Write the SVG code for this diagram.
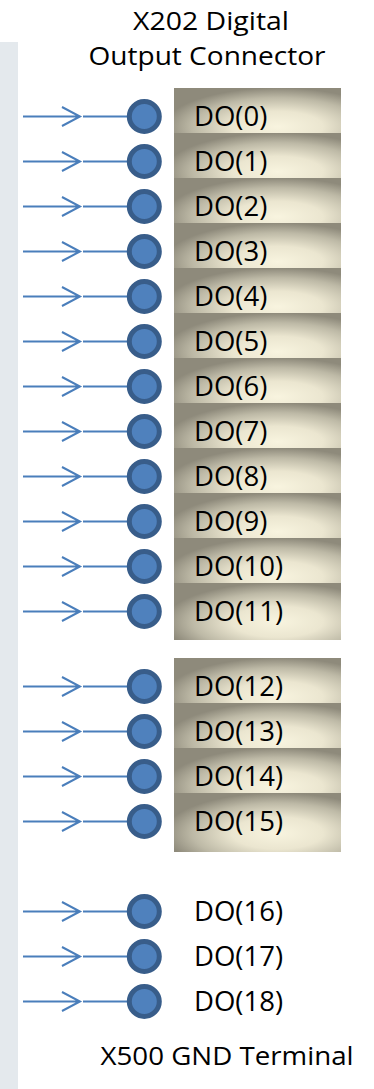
<svg xmlns="http://www.w3.org/2000/svg" width="374" height="1089" viewBox="0 0 374 1089">
  <defs>
    <radialGradient id="tile" cx="0.62" cy="0.68" r="0.68" fx="0.62" fy="0.68">
      <stop offset="0" stop-color="#f8f4df"/>
      <stop offset="0.4" stop-color="#ebe6d0"/>
      <stop offset="0.75" stop-color="#bdb9a6"/>
      <stop offset="1" stop-color="#8e8a7b"/>
    </radialGradient>
    <path id="feed" d="M23 0H80M62 -9.5L80 0L62 9.5M83 0H127"/>
  </defs>
  <style>
    .title { font-family: "Open Sans", "Liberation Sans", sans-serif; font-size: 25px; fill: #000; text-anchor: middle; }
    .lbl { font-family: "Open Sans", "Liberation Sans", sans-serif; font-size: 27.5px; fill: #000; }
    .tile { fill: url(#tile); }
    .pin { fill: #4f81bd; stroke: #385d8a; stroke-width: 5; }
    .wire { fill: none; stroke: #4a7ebb; stroke-width: 2; }
  </style>

  <!-- side panel -->
  <rect x="0" y="42" width="18" height="1047" fill="#e4e9ed"/>

  <!-- headings -->
  <text class="title" x="211" y="30" textLength="156" lengthAdjust="spacingAndGlyphs">X202 Digital</text>
  <text class="title" x="207" y="65" textLength="237" lengthAdjust="spacingAndGlyphs">Output Connector</text>
  <text class="title" x="227" y="1065" textLength="253" lengthAdjust="spacingAndGlyphs">X500 GND Terminal</text>

  <!-- connectors: input arrow plus lead into each pin -->
  <g id="connectors" class="wire">
    <use href="#feed" y="116.5"/>
    <use href="#feed" y="161.5"/>
    <use href="#feed" y="206.5"/>
    <use href="#feed" y="251.5"/>
    <use href="#feed" y="296.5"/>
    <use href="#feed" y="341.5"/>
    <use href="#feed" y="386.5"/>
    <use href="#feed" y="431.5"/>
    <use href="#feed" y="476.5"/>
    <use href="#feed" y="521.5"/>
    <use href="#feed" y="566.5"/>
    <use href="#feed" y="611.5"/>
    <use href="#feed" y="686.5"/>
    <use href="#feed" y="731.5"/>
    <use href="#feed" y="776.5"/>
    <use href="#feed" y="821.5"/>
    <use href="#feed" y="911.5"/>
    <use href="#feed" y="956.5"/>
    <use href="#feed" y="1001.5"/>
  </g>

  <!-- pins: each row is a pin, its shaded label tile and its name -->
  <g id="do0" transform="translate(0,116.5)"><rect class="tile" x="174" y="-28.5" width="167" height="57"/><circle class="pin" cx="144.3" cy="0" r="15"/><text class="lbl" x="194" y="9.5">DO(0)</text></g>
  <g id="do1" transform="translate(0,161.5)"><rect class="tile" x="174" y="-28.5" width="167" height="57"/><circle class="pin" cx="144.3" cy="0" r="15"/><text class="lbl" x="194" y="9.5">DO(1)</text></g>
  <g id="do2" transform="translate(0,206.5)"><rect class="tile" x="174" y="-28.5" width="167" height="57"/><circle class="pin" cx="144.3" cy="0" r="15"/><text class="lbl" x="194" y="9.5">DO(2)</text></g>
  <g id="do3" transform="translate(0,251.5)"><rect class="tile" x="174" y="-28.5" width="167" height="57"/><circle class="pin" cx="144.3" cy="0" r="15"/><text class="lbl" x="194" y="9.5">DO(3)</text></g>
  <g id="do4" transform="translate(0,296.5)"><rect class="tile" x="174" y="-28.5" width="167" height="57"/><circle class="pin" cx="144.3" cy="0" r="15"/><text class="lbl" x="194" y="9.5">DO(4)</text></g>
  <g id="do5" transform="translate(0,341.5)"><rect class="tile" x="174" y="-28.5" width="167" height="57"/><circle class="pin" cx="144.3" cy="0" r="15"/><text class="lbl" x="194" y="9.5">DO(5)</text></g>
  <g id="do6" transform="translate(0,386.5)"><rect class="tile" x="174" y="-28.5" width="167" height="57"/><circle class="pin" cx="144.3" cy="0" r="15"/><text class="lbl" x="194" y="9.5">DO(6)</text></g>
  <g id="do7" transform="translate(0,431.5)"><rect class="tile" x="174" y="-28.5" width="167" height="57"/><circle class="pin" cx="144.3" cy="0" r="15"/><text class="lbl" x="194" y="9.5">DO(7)</text></g>
  <g id="do8" transform="translate(0,476.5)"><rect class="tile" x="174" y="-28.5" width="167" height="57"/><circle class="pin" cx="144.3" cy="0" r="15"/><text class="lbl" x="194" y="9.5">DO(8)</text></g>
  <g id="do9" transform="translate(0,521.5)"><rect class="tile" x="174" y="-28.5" width="167" height="57"/><circle class="pin" cx="144.3" cy="0" r="15"/><text class="lbl" x="194" y="9.5">DO(9)</text></g>
  <g id="do10" transform="translate(0,566.5)"><rect class="tile" x="174" y="-28.5" width="167" height="57"/><circle class="pin" cx="144.3" cy="0" r="15"/><text class="lbl" x="194" y="9.5">DO(10)</text></g>
  <g id="do11" transform="translate(0,611.5)"><rect class="tile" x="174" y="-28.5" width="167" height="57"/><circle class="pin" cx="144.3" cy="0" r="15"/><text class="lbl" x="194" y="9.5">DO(11)</text></g>

  <g id="do12" transform="translate(0,686.5)"><rect class="tile" x="174" y="-28.5" width="167" height="57"/><circle class="pin" cx="144.3" cy="0" r="15"/><text class="lbl" x="194" y="9.5">DO(12)</text></g>
  <g id="do13" transform="translate(0,731.5)"><rect class="tile" x="174" y="-28.5" width="167" height="57"/><circle class="pin" cx="144.3" cy="0" r="15"/><text class="lbl" x="194" y="9.5">DO(13)</text></g>
  <g id="do14" transform="translate(0,776.5)"><rect class="tile" x="174" y="-28.5" width="167" height="57"/><circle class="pin" cx="144.3" cy="0" r="15"/><text class="lbl" x="194" y="9.5">DO(14)</text></g>
  <g id="do15" transform="translate(0,821.5)"><rect class="tile" x="174" y="-28.5" width="167" height="59"/><circle class="pin" cx="144.3" cy="0" r="15"/><text class="lbl" x="194" y="9.5">DO(15)</text></g>

  <!-- ground terminal pins, no tiles -->
  <g id="do16" transform="translate(0,911.5)"><circle class="pin" cx="144.3" cy="0" r="15"/><text class="lbl" x="194" y="9.5">DO(16)</text></g>
  <g id="do17" transform="translate(0,956.5)"><circle class="pin" cx="144.3" cy="0" r="15"/><text class="lbl" x="194" y="9.5">DO(17)</text></g>
  <g id="do18" transform="translate(0,1001.5)"><circle class="pin" cx="144.3" cy="0" r="15"/><text class="lbl" x="194" y="9.5">DO(18)</text></g>
</svg>
